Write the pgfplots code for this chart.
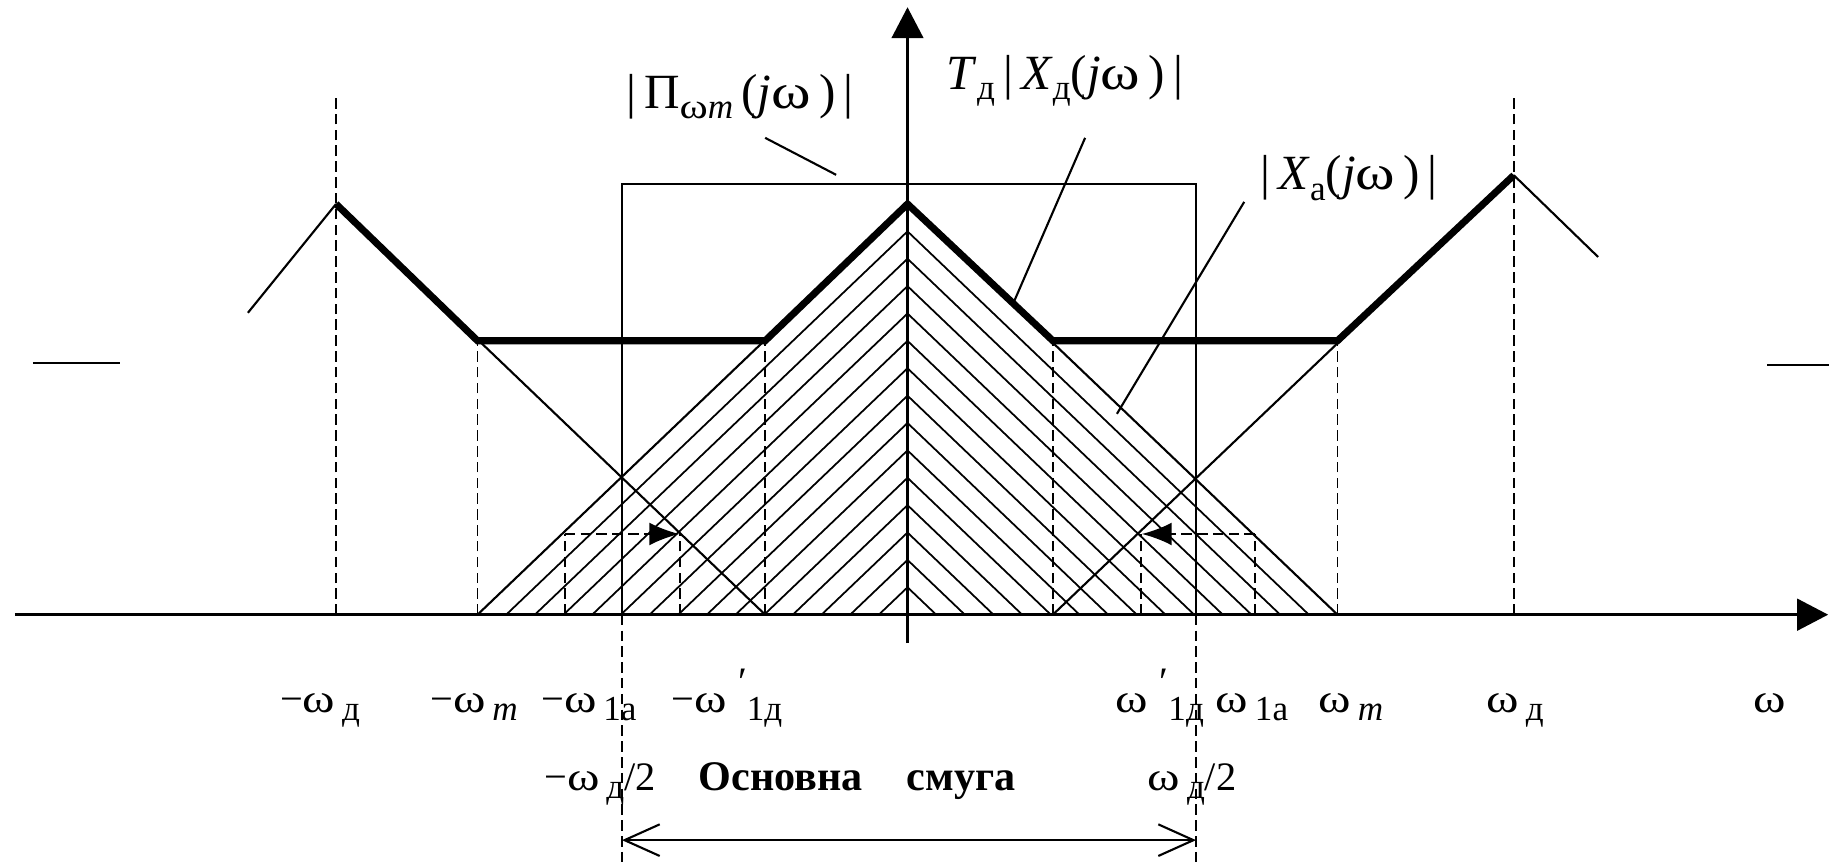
\documentclass[border=0pt]{standalone}
\usepackage{fontspec}
\setmainfont{Liberation Serif}
\usepackage{graphicx}
\usepackage{pgfplots}
\pgfplotsset{compat=1.18}
\usetikzlibrary{arrows.meta}

% lowered, slightly smaller index
\newcommand{\sub}[1]{\raisebox{-0.45ex}{\fontsize{10}{10}\selectfont #1}}
% wide omega
\newcommand{\w}{\scalebox{1.22}[1]{ω}}

\tikzset{
  thinl/.style={black, line width=0.6pt},
  hatch/.style={black, line width=0.5pt},
  heavy/.style={black, line width=2pt, line join=miter},
  dsh/.style={black, line width=0.55pt, dash pattern=on 3pt off 1.5pt},
  lbl/.style={font=\fontsize{11.5}{13}\selectfont, inner sep=0pt, anchor=base},
  big/.style={font=\fontsize{14}{16}\selectfont, inner sep=0pt},
}

\begin{document}
\begin{tikzpicture}
\useasboundingbox (0,0) rectangle (182.9mm,86.7mm);
\begin{axis}[
  at={(0,0)}, anchor=south west,
  scale only axis, width=182.9mm, height=86.7mm,
  xmin=-2.1105, xmax=2.1430, ymin=-0.6143, ymax=1.4967,
  hide axis, clip=false,
]
% frequency axis and ordinate
\draw[line width=0.75pt, -{Triangle[length=8.8pt,width=9pt]}] (axis cs:-2.076,0) -- (axis cs:2.141,0);
\draw[line width=0.75pt, -{Triangle[length=8.8pt,width=9pt]}] (axis cs:0,-0.069) -- (axis cs:0,1.479);

% hatching of the base spectrum
\addplot[hatch] coordinates {(-0.9333,0) (0,0.9333) (0.9333,0)};
\addplot[hatch] coordinates {(-0.8667,0) (0,0.8667) (0.8667,0)};
\addplot[hatch] coordinates {(-0.8000,0) (0,0.8000) (0.8000,0)};
\addplot[hatch] coordinates {(-0.7333,0) (0,0.7333) (0.7333,0)};
\addplot[hatch] coordinates {(-0.6667,0) (0,0.6667) (0.6667,0)};
\addplot[hatch] coordinates {(-0.6000,0) (0,0.6000) (0.6000,0)};
\addplot[hatch] coordinates {(-0.5333,0) (0,0.5333) (0.5333,0)};
\addplot[hatch] coordinates {(-0.4667,0) (0,0.4667) (0.4667,0)};
\addplot[hatch] coordinates {(-0.4000,0) (0,0.4000) (0.4000,0)};
\addplot[hatch] coordinates {(-0.3333,0) (0,0.3333) (0.3333,0)};
\addplot[hatch] coordinates {(-0.2667,0) (0,0.2667) (0.2667,0)};
\addplot[hatch] coordinates {(-0.2000,0) (0,0.2000) (0.2000,0)};
\addplot[hatch] coordinates {(-0.1333,0) (0,0.1333) (0.1333,0)};
\addplot[hatch] coordinates {(-0.0667,0) (0,0.0667) (0.0667,0)};

% |X_a(jw)| and its shifted copies
\addplot[thinl] coordinates {(-1,0) (0,1) (1,0)};
\addplot[thinl] coordinates {(-1.329,1) (-0.331,0)};
\addplot[thinl] coordinates {(0.338,0) (1.410,1.070)};
\addplot[thinl] coordinates {(-1.534,0.735) (-1.329,1)};
\addplot[thinl] coordinates {(1.410,1.070) (1.606,0.871)};
\addplot[thinl] coordinates {(-2.034,0.613) (-1.831,0.613)};
\addplot[thinl] coordinates {(1.999,0.608) (2.143,0.608)};

% ideal low-pass window
\addplot[thinl] coordinates {(-0.664,0) (-0.664,1.049) (0.671,1.049) (0.671,0)};

% dashed markers
\addplot[dsh] coordinates {(-1.329,0) (-1.329,1.270)};
\addplot[dsh] coordinates {(1.410,0) (1.410,1.270)};
\addplot[dsh] coordinates {(-1,0) (-1,0.667)};
\addplot[dsh] coordinates {(1,0) (1,0.667)};
\addplot[dsh] coordinates {(-0.331,0) (-0.331,0.667)};
\addplot[dsh] coordinates {(0.338,0) (0.338,0.667)};
\addplot[dsh] coordinates {(-0.664,0) (-0.664,-0.6143)};
\addplot[dsh] coordinates {(0.671,0) (0.671,-0.6143)};
\addplot[dsh] coordinates {(-0.797,0) (-0.797,0.1965)};
\addplot[dsh] coordinates {(-0.529,0) (-0.529,0.1965)};
\addplot[dsh] coordinates {(0.543,0) (0.543,0.1965)};
\addplot[dsh] coordinates {(0.808,0) (0.808,0.1965)};
\draw[dsh, -{Latex[length=8.5pt,width=6.5pt]}] (axis cs:-0.797,0.1965) -- (axis cs:-0.531,0.1965);
\draw[dsh, -{Latex[length=8.5pt,width=6.5pt]}] (axis cs:0.808,0.1965) -- (axis cs:0.545,0.1965);

% sampled spectrum
\addplot[heavy] coordinates {(-1.329,1) (-1,0.667) (-0.331,0.667) (0,1) (0.338,0.667) (1,0.667) (1.410,1.070)};

% pointer lines
\draw[thinl] (axis cs:-0.331,1.161) -- (axis cs:-0.166,1.071);
\draw[thinl] (axis cs:0.413,1.161) -- (axis cs:0.243,0.751);
\draw[thinl] (axis cs:0.783,1.005) -- (axis cs:0.487,0.489);

% curve labels
\node[big] at (axis cs:-0.390,1.262) {|\,Π\sub{\w\textit{m}}\,(\textit{j}\w\,)\,|};
\node[big] at (axis cs:0.366,1.299) {\textit{T}\sub{д}\,|\,\textit{X}\sub{д}(\textit{j}\w\,)\,|};
\node[big] at (axis cs:1.027,1.063) {|\,\textit{X}\sub{а}(\textit{j}\w\,)\,|};

% frequency labels
\node[lbl] at (axis cs:-1.366,-0.237) {−\w\,\sub{д}};
\node[lbl] at (axis cs:-1.008,-0.237) {−\w\,\sub{\textit{m}}};
\node[lbl] at (axis cs:-0.741,-0.237) {−\w\,\sub{1а}};
\node[lbl] at (axis cs:-0.420,-0.237) {−\w\;\raisebox{0.9ex}{′}\sub{1д}};
\node[lbl] at (axis cs:0.587,-0.237) {\w\;\raisebox{0.9ex}{′}\sub{1д}};
\node[lbl] at (axis cs:0.801,-0.237) {\w\,\sub{1а}};
\node[lbl] at (axis cs:1.031,-0.237) {\w\,\sub{\textit{m}}};
\node[lbl] at (axis cs:1.413,-0.237) {\w\,\sub{д}};
\node[lbl] at (axis cs:2.006,-0.237) {\w};

\node[lbl] at (axis cs:-0.715,-0.427) {−\w\,\sub{д}/2};
\node[lbl, font=\fontsize{12}{14}\selectfont\bfseries] at (axis cs:-0.295,-0.427) {Основна};
\node[lbl, font=\fontsize{12}{14}\selectfont\bfseries] at (axis cs:0.125,-0.427) {смуга};
\node[lbl] at (axis cs:0.662,-0.427) {\w\,\sub{д}/2};

% base band
\draw[line width=0.6pt, {Straight Barb[length=10pt,width=9pt]}-{Straight Barb[length=10pt,width=9pt]}]
  (axis cs:-0.664,-0.549) -- (axis cs:0.671,-0.549);
\end{axis}
\end{tikzpicture}
\end{document}
